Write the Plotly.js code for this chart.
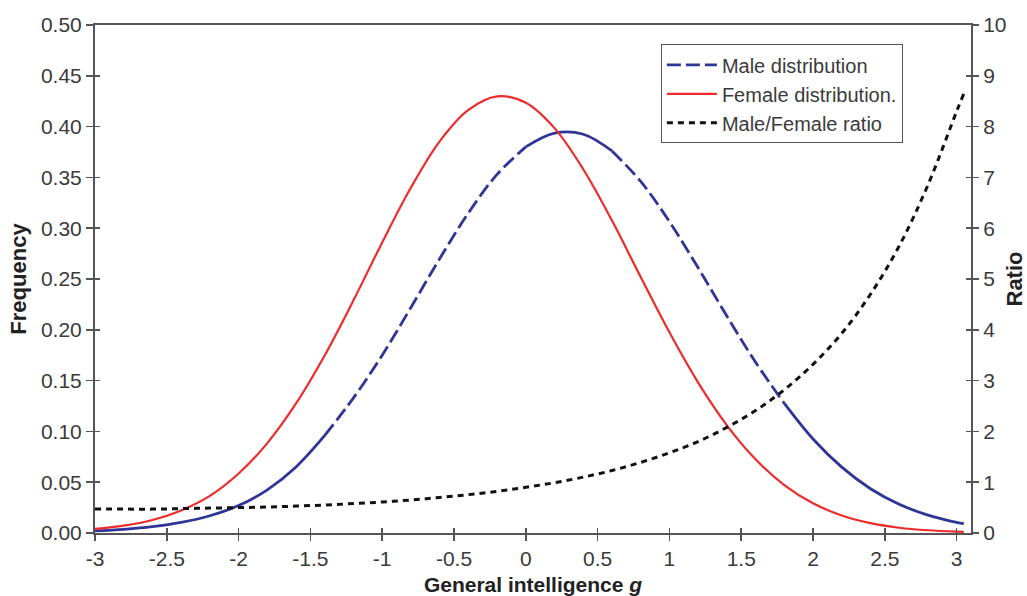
<!DOCTYPE html>
<html>
<head>
<meta charset="utf-8">
<script src="https://cdn.plot.ly/plotly-3.0.1.min.js"></script>
<style>html,body{margin:0;padding:0;background:#fff;}#chart{width:1027px;height:596px;}</style>
</head>
<body>
<div id="chart"></div>
<script>
// ---- data ----
const gValues = [-3.0,-2.8,-2.6,-2.4,-2.2,-2.0,-1.8,-1.6,-1.4,-1.2,-1.0,-0.8,-0.6,-0.4,-0.2,0.0,0.2,0.4,0.6,0.8,1.0,1.2,1.4,1.6,1.8,2.0,2.2,2.4,2.6,2.8,3.0,3.05];
const maleFreq = [0.0020,0.0036,0.0062,0.0104,0.0170,0.0270,0.0425,0.0650,0.0960,0.1330,0.1750,0.2220,0.2700,0.3150,0.3530,0.3800,0.3935,0.3925,0.3760,0.3460,0.3065,0.2610,0.2135,0.1680,0.1275,0.0925,0.0648,0.0436,0.0283,0.0176,0.0105,0.0093];
const femaleFreq = [0.0040,0.0072,0.0128,0.0222,0.0365,0.0585,0.0885,0.1275,0.1750,0.2290,0.2860,0.3400,0.3855,0.4165,0.4298,0.4235,0.3985,0.3580,0.3075,0.2520,0.1975,0.1480,0.1060,0.0725,0.0472,0.0292,0.0172,0.0097,0.0052,0.0027,0.0013,0.0011];
const mfRatio = [0.47,0.47,0.47,0.48,0.49,0.50,0.51,0.53,0.55,0.58,0.61,0.65,0.70,0.755,0.82,0.90,0.99,1.10,1.23,1.39,1.58,1.80,2.08,2.41,2.82,3.32,3.93,4.70,5.65,6.85,8.30,8.65];
const seriesNames = ['Male distribution', 'Female distribution.', 'Male/Female ratio'];
const xTickVals = [-3,-2.5,-2,-1.5,-1,-0.5,0,0.5,1,1.5,2,2.5,3];
const xTickText = ['-3','-2.5','-2','-1.5','-1','-0.5','0','0.5','1','1.5','2','2.5','3'];
const yTickVals = [0,0.05,0.10,0.15,0.20,0.25,0.30,0.35,0.40,0.45,0.50];
const y2TickVals = [0,1,2,3,4,5,6,7,8,9,10];

// ---- styling ----
const FONT = 'Liberation Sans, Arial, sans-serif';
const AX = '#555555';
const BLUE = '#2f3596';
const RED = '#ee2b2b';

// male line: solid-looking stretches and dashed stretches (style segments)
const segs = [[-3.0,-1.4,'solid'],[-1.4,0.0,'14px,5px'],[0.0,0.6,'solid'],[0.6,1.8,'14px,5px'],[1.8,3.05,'solid']];
const traces = [];
let first = true;
const ordered = [segs[1], segs[0], segs[2], segs[3], segs[4]];
ordered.forEach(s => {
  const xs = [], ys = [];
  gValues.forEach((g,i) => { if (g >= s[0]-1e-9 && g <= s[1]+1e-9) { xs.push(g); ys.push(maleFreq[i]); } });
  traces.push({
    x: xs, y: ys, type: 'scatter', mode: 'lines', name: seriesNames[0],
    legendgroup: 'male', showlegend: first,
    line: {color: BLUE, width: 2.8, dash: s[2], shape: 'spline', smoothing: 1},
    hoverinfo: 'skip'
  });
  first = false;
});
traces.push({
  x: gValues, y: femaleFreq, type: 'scatter', mode: 'lines', name: seriesNames[1],
  legendgroup: 'female',
  line: {color: RED, width: 2.2, shape: 'spline', smoothing: 1}
});
traces.push({
  x: gValues, y: mfRatio, type: 'scatter', mode: 'lines', name: seriesNames[2],
  legendgroup: 'ratio', yaxis: 'y2',
  line: {color: '#111111', width: 3, dash: '6px,5px', shape: 'spline', smoothing: 1}
});
traces.push({x: [], y: [], xaxis: 'x2', yaxis: 'y3', showlegend: false, hoverinfo: 'skip', type: 'scatter'});
traces.push({x: [], y: [], xaxis: 'x', yaxis: 'y4', showlegend: false, hoverinfo: 'skip', type: 'scatter'});

const tickFont = {family: FONT, size: 21, color: '#3a3a3a'};
const titleFont = {family: FONT, size: 22, color: '#222222'};

const layout = {
  width: 1027, height: 596,
  margin: {l: 95, r: 56, t: 25, b: 63, pad: 0},
  paper_bgcolor: '#ffffff', plot_bgcolor: '#ffffff',
  font: {family: FONT},
  showlegend: true,
  legend: {
    x: 0.646, y: 0.962, xanchor: 'left', yanchor: 'top',
    bordercolor: AX, borderwidth: 1, bgcolor: '#ffffff',
    font: {family: FONT, size: 20, color: '#3a3a3a'},
    tracegroupgap: 0, itemwidth: 50
  },
  xaxis: {
    range: [-3, 3.1], tickvals: xTickVals, ticktext: xTickText,
    showgrid: false, zeroline: false, showline: true, linecolor: AX, linewidth: 2, mirror: true,
    ticks: 'outside', ticklen: 6, tickwidth: 1.5, tickcolor: AX,
    tickfont: tickFont, automargin: false,
    title: {text: '<b>General intelligence <i>g</i></b>', font: {family: FONT, size: 21, color: '#222222'}, standoff: 17}
  },
  xaxis2: {
    range: [-3, 3.1], overlaying: 'x', anchor: 'y3', tickvals: xTickVals,
    showticklabels: false, showgrid: false, zeroline: false, showline: false,
    ticks: 'inside', ticklen: 5, tickwidth: 1.5, tickcolor: AX
  },
  yaxis: {
    range: [0, 0.5], tickvals: yTickVals, tickformat: '.2f',
    showgrid: false, zeroline: false, showline: true, linecolor: AX, linewidth: 2,
    ticks: 'outside', ticklen: 7, tickwidth: 1.5, tickcolor: AX,
    tickfont: tickFont, automargin: false,
    title: {text: '<b>Frequency</b>', font: titleFont, standoff: 8}
  },
  yaxis2: {
    range: [0, 10], tickvals: y2TickVals, overlaying: 'y', side: 'right', anchor: 'x',
    showgrid: false, zeroline: false, showline: true, linecolor: AX, linewidth: 2,
    ticks: 'outside', ticklen: 6, tickwidth: 1.5, tickcolor: AX,
    tickfont: tickFont, automargin: false,
    title: {text: '<b>Ratio</b>', font: titleFont, standoff: 4}
  },
  yaxis3: {
    range: [0, 0.5], overlaying: 'y', side: 'left', anchor: 'x2', tickvals: yTickVals,
    showticklabels: false, showgrid: false, zeroline: false, showline: false,
    ticks: 'inside', ticklen: 5, tickwidth: 1.5, tickcolor: AX
  },
  yaxis4: {
    range: [0, 10], overlaying: 'y', side: 'right', anchor: 'x', tickvals: y2TickVals,
    showticklabels: false, showgrid: false, zeroline: false, showline: false,
    ticks: 'inside', ticklen: 5, tickwidth: 1.5, tickcolor: AX
  }
};

Plotly.newPlot('chart', traces, layout, {displayModeBar: false, staticPlot: true});
</script>
</body>
</html>
